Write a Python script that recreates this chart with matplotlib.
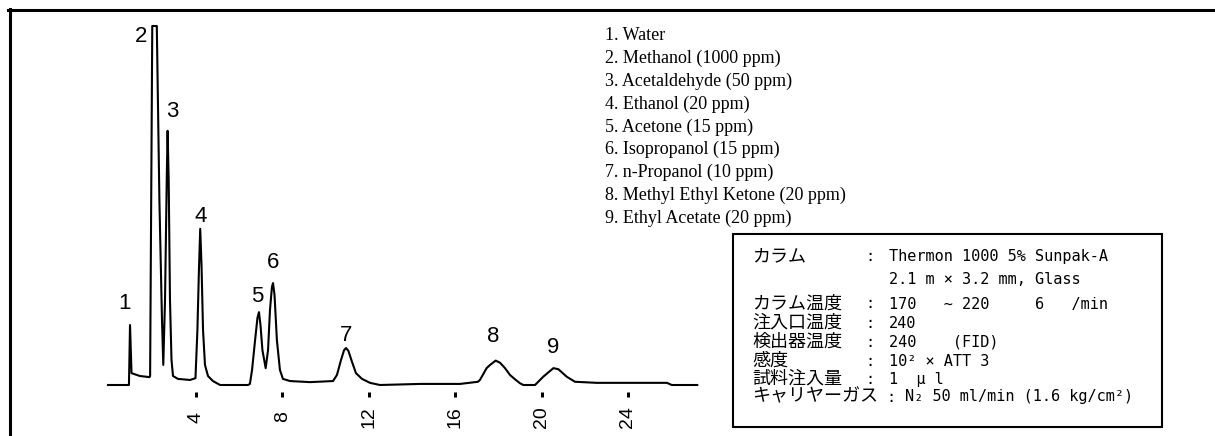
"""GC chromatogram of volatile compounds with peak list and condition box."""

import matplotlib

matplotlib.use("Agg")
import matplotlib.pyplot as plt
from matplotlib.lines import Line2D
from matplotlib.patches import Rectangle

W, H, DPI = 1215, 436, 100

# chromatogram trace: time (min), response (% of full scale)
trace_time = [
    -0.07, 0.90, 0.95, 1.02, 1.41, 1.85, 1.88, 1.98, 2.19, 2.31, 2.43, 2.49,
    2.57, 2.65, 2.69, 2.74, 2.80, 2.87, 2.94, 3.17, 3.73, 3.98, 4.07, 4.14,
    4.20, 4.26, 4.33, 4.42, 4.56, 4.79, 5.12, 6.41, 6.50, 6.60, 6.74, 6.85,
    6.92, 6.99, 7.08, 7.23, 7.34, 7.43, 7.52, 7.57, 7.64, 7.75, 7.89, 8.03,
    8.36, 9.28, 10.35, 10.53, 10.72, 10.86, 10.95, 11.06, 11.23, 11.41, 11.69,
    12.06, 12.52, 14.38, 16.23, 17.06, 17.15, 17.46, 17.62, 17.88, 18.08,
    18.31, 18.54, 18.77, 19.00, 19.16, 19.70, 20.08, 20.55, 20.78, 21.17,
    21.55, 22.56, 25.64, 25.81, 26.03, 27.21,
]
trace_signal = [
    0.0, 0.0, 16.7, 3.3, 2.5, 2.2, 2.5, 100.0, 100.0, 51.5, 18.1, 5.6,
    23.7, 57.1, 70.8, 57.1, 23.7, 7.0, 2.5, 1.7, 1.4, 1.9, 15.3, 32.0,
    43.5, 33.4, 15.3, 5.6, 2.5, 1.1, 0.0, 0.0, 0.3, 4.2, 12.5, 18.7,
    20.3, 16.7, 9.7, 4.7, 9.7, 20.9, 27.3, 28.4, 25.1, 12.5, 4.2, 1.7,
    1.1, 0.8, 1.1, 2.8, 7.0, 9.7, 10.3, 9.5, 6.4, 3.3, 1.7,
    0.6, 0.0, 0.3, 0.3, 0.9, 1.4, 4.7, 5.6, 6.8, 6.2,
    4.7, 2.8, 1.6, 0.5, 0.0, 0.0, 2.3, 4.7, 4.4, 2.3,
    0.9, 0.6, 0.6, 0.6, 0.0, 0.0,
]

peak_numbers = [1, 2, 3, 4, 5, 6, 7, 8, 9]
peak_time = [0.95, 2.08, 2.69, 4.20, 6.92, 7.57, 10.95, 17.88, 20.55]
peak_signal = [16.7, 100.0, 70.8, 43.5, 20.3, 28.4, 10.3, 6.8, 4.7]

tick_minutes = [4, 8, 12, 16, 20, 24]

compounds = [
    "1. Water",
    "2. Methanol (1000 ppm)",
    "3. Acetaldehyde (50 ppm)",
    "4. Ethanol (20 ppm)",
    "5. Acetone (15 ppm)",
    "6. Isopropanol (15 ppm)",
    "7. n-Propanol (10 ppm)",
    "8. Methyl Ethyl Ketone (20 ppm)",
    "9. Ethyl Acetate (20 ppm)",
]

cond_labels = ["カラム", "", "カラム温度", "注入口温度", "検出器温度", "感度", "試料注入量", "キャリヤーガス"]
cond_values = [
    "Thermon 1000 5% Sunpak-A",
    "2.1 m × 3.2 mm, Glass",
    "170   ~ 220     6   /min",
    "240",
    "240    (FID)",
    "10² × ATT 3",
    "1  μ l",
    "N₂ 50 ml/min (1.6 kg/cm²)",
]

# layout (pixels of the 1215x436 picture)
X0_PX, PX_PER_MIN = 109.5, 21.6
BASE_PY, PX_PER_UNIT = 385.0, 3.59
AX_BOTTOM_PY = 392.0
# label baseline offsets from each peak apex (px, right / up)
label_offsets = [(-5.5, 16), (-13.5, -16), (5, 14), (0.7, 7), (-2, 10), (0, 15), (0, 7), (-2.7, 19), (0.2, 15)]
row_baselines = [261, 284.5, 308.5, 328, 346.5, 365.5, 383.5, 401.5]


def fx(px):
    return px / W


def fy(py):
    return 1 - py / H


fig = plt.figure(figsize=(W / DPI, H / DPI), dpi=DPI)
fig.patch.set_facecolor("white")

ax = fig.add_axes([0, fy(AX_BOTTOM_PY), 1, AX_BOTTOM_PY / H])
ax.set_xlim(-X0_PX / PX_PER_MIN, (W - X0_PX) / PX_PER_MIN)
ax.set_ylim((BASE_PY - AX_BOTTOM_PY) / PX_PER_UNIT, BASE_PY / PX_PER_UNIT)
for sp in ax.spines.values():
    sp.set_visible(False)
ax.set_facecolor("none")
ax.set_yticks([])

ax.plot(trace_time, trace_signal, color="black", lw=1.5, solid_joinstyle="round")

for n, t, s, (dx, dy) in zip(peak_numbers, peak_time, peak_signal, label_offsets):
    ax.annotate(str(n), xy=(t, s), xytext=(dx, dy), textcoords="offset pixels",
                ha="center", va="baseline", fontsize=16, family="Liberation Sans")

ax.set_xticks(tick_minutes)
ax.set_xticklabels([str(m) for m in tick_minutes], rotation=90, va="center",
                   fontsize=14, family="Liberation Sans")
ax.tick_params(axis="x", direction="out", length=5 * 0.72, width=3 * 0.72, pad=20 * 0.72)

# compound list
for i, name in enumerate(compounds):
    fig.text(fx(605), fy(40.5 + i * 22.75), name, ha="left", va="baseline",
             fontsize=13, family="Liberation Serif")

# conditions box
fig.add_artist(Rectangle((fx(733), fy(427)), fx(1162) - fx(733), fy(234) - fy(427),
                         transform=fig.transFigure, fill=False, lw=1.5, ec="black"))
mono = ["DejaVu Sans Mono", "Noto Sans CJK JP"]
for i, (lab, val) in enumerate(zip(cond_labels, cond_values)):
    yb = fy(row_baselines[i])
    last = i == len(cond_labels) - 1
    if lab:
        fig.text(fx(752), yb, lab, ha="left", va="baseline", fontsize=13, family="Noto Sans CJK JP")
        fig.text(fx(891 if last else 870), yb, ":", ha="center", va="baseline", fontsize=11, family=mono)
    fig.text(fx(905 if last else 889), yb, val, ha="left", va="baseline", fontsize=11, family=mono)

# outer frame (top and left edges only)
fig.add_artist(Line2D([fx(8), 1], [fy(10.5), fy(10.5)], transform=fig.transFigure, color="black", lw=2.2))
fig.add_artist(Line2D([fx(9.5), fx(9.5)], [0, fy(9.5)], transform=fig.transFigure, color="black", lw=2.2))

fig.savefig("out.png", dpi=DPI, facecolor="white")
